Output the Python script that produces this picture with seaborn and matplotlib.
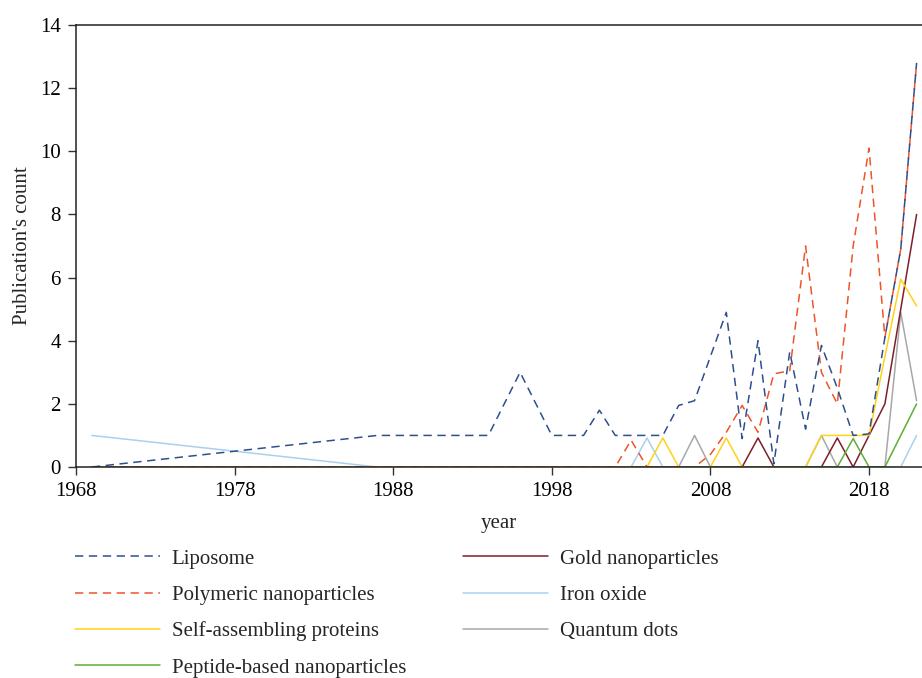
import numpy as np
import pandas as pd
import matplotlib
matplotlib.use("Agg")
import matplotlib.pyplot as plt
from matplotlib.lines import Line2D
import seaborn as sns

# Publication counts per year
years = [1969, 1987, 1994, 1996, 1998] + list(range(2000, 2022))
nan = np.nan

liposome = [0, 1, 1, 3, 1,
            1, 1.8, 1, 1, 1, 1, 1.95, 2.1, 3.5, 4.9, 0.9, 4.0, 0.1, 3.65, 1.2, 3.85, 2.5, 1.0, 1.05, 4.1, 6.9, 12.8]
polymeric = [0, 0, 0, 0, 0,
             0, 0, 0, 0.85, 0, 0, 0, 0, 0.4, 1.1, 1.95, 1.1, 2.95, 3.05, 7, 3, 2, 7, 10.1, 4.1, 6.9, 12.8]
self_assembling = [0, 0, 0, 0, 0,
                   0, 0, 0, 0, 0, 0.92, 0, 0, 0, 0.92, 0, 0, 0, 0, 0, 1, 1, 1, 1, 3.5, 5.95, 5.1]
peptide = [nan, nan, nan, nan, nan,
           nan, nan, nan, 0, 0, 0, 0, 0, 0, 0, 0, 0, 0, 0, 0, 0, 0, 0.9, 0, 0, 1.0, 2.0]
gold = [0, 0, 0, 0, 0,
        0, 0, 0, 0, 0, 0, 0, 0, 0, 0, 0, 0.92, 0, 0, 0, 0, 0.92, 0, 1.0, 2.0, 5.0, 8.0]
iron_oxide = [1, 0, 0, 0, 0,
              0, 0, 0, 0, 0.92, 0, 0, 0, 0, 0, 0, 0, 0, 0, 0, 0, 0, 0, 0, 0, 0, 1.0]
quantum_dots = [0, 0, 0, 0, 0,
                0, 0, 0, 0, 0, 0, 0, 1, 0, 0, 0, 0, 0, 0, 0, 1, 0, 0, 0, 0, 4.9, 2.1]

labels = ["Liposome", "Polymeric nanoparticles", "Self-assembling proteins",
          "Peptide-based nanoparticles", "Gold nanoparticles", "Iron oxide", "Quantum dots"]
values = [liposome, polymeric, self_assembling, peptide, gold, iron_oxide, quantum_dots]
colors = ["#2E4F8F", "#EE5428", "#FFD21A", "#5FAE32", "#7E1E2C", "#A9D1EF", "#A8A8A8"]
dashed = [True, True, False, False, False, False, False]
draw_order = [5, 6, 4, 2, 3, 1, 0]

df = pd.DataFrame({"year": years})
for name, vals in zip(labels, values):
    df[name] = vals

sns.set_style("ticks")
plt.rcParams["font.family"] = ["Liberation Serif", "DejaVu Serif"]
plt.rcParams["lines.scale_dashes"] = False

fs = 15
dash_style = (0, (6, 4))
lw = 1.1

fig = plt.figure(figsize=(9.22, 6.78), dpi=100)
ax = fig.add_axes([76 / 922, 1 - 467 / 678, 1 - 76 / 922, (467 - 25) / 678])

for i in draw_order:
    sub = df[["year", labels[i]]].dropna()
    sns.lineplot(data=sub, x="year", y=labels[i], ax=ax, color=colors[i], lw=lw,
                 linestyle=dash_style if dashed[i] else "-", errorbar=None)

ax.set_xlim(1968, 2021.34)
ax.set_ylim(0, 14)
ax.set_xticks([1968, 1978, 1988, 1998, 2008, 2018])
ax.set_yticks(range(0, 15, 2))
ax.tick_params(axis="both", direction="out", length=6, width=1, colors="#333333",
               labelsize=fs, labelcolor="black")
ax.tick_params(axis="y", pad=5)
ax.tick_params(axis="x", pad=5)
for side in ["left", "bottom", "top"]:
    ax.spines[side].set_visible(True)
    ax.spines[side].set_color("#222222")
    ax.spines[side].set_linewidth(1.1)
ax.spines["right"].set_visible(False)
ax.set_xlabel("year", fontsize=fs, labelpad=9)
ax.set_ylabel("Publication's count", fontsize=fs, labelpad=6)

handles = [Line2D([], [], color=c, lw=lw, linestyle=dash_style if d else "-")
           for c, d in zip(colors, dashed)]
leg_kw = dict(loc="upper left", frameon=False, fontsize=fs, handlelength=4.1,
              handletextpad=0.55, labelspacing=0.8, borderpad=0, borderaxespad=0)
leg1 = fig.legend(handles[:4], labels[:4], bbox_to_anchor=(75 / 922, 1 - 549 / 678), **leg_kw)
leg2 = fig.legend(handles[4:], labels[4:], bbox_to_anchor=(463 / 922, 1 - 549 / 678), **leg_kw)

fig.savefig("out.png", dpi=100)
